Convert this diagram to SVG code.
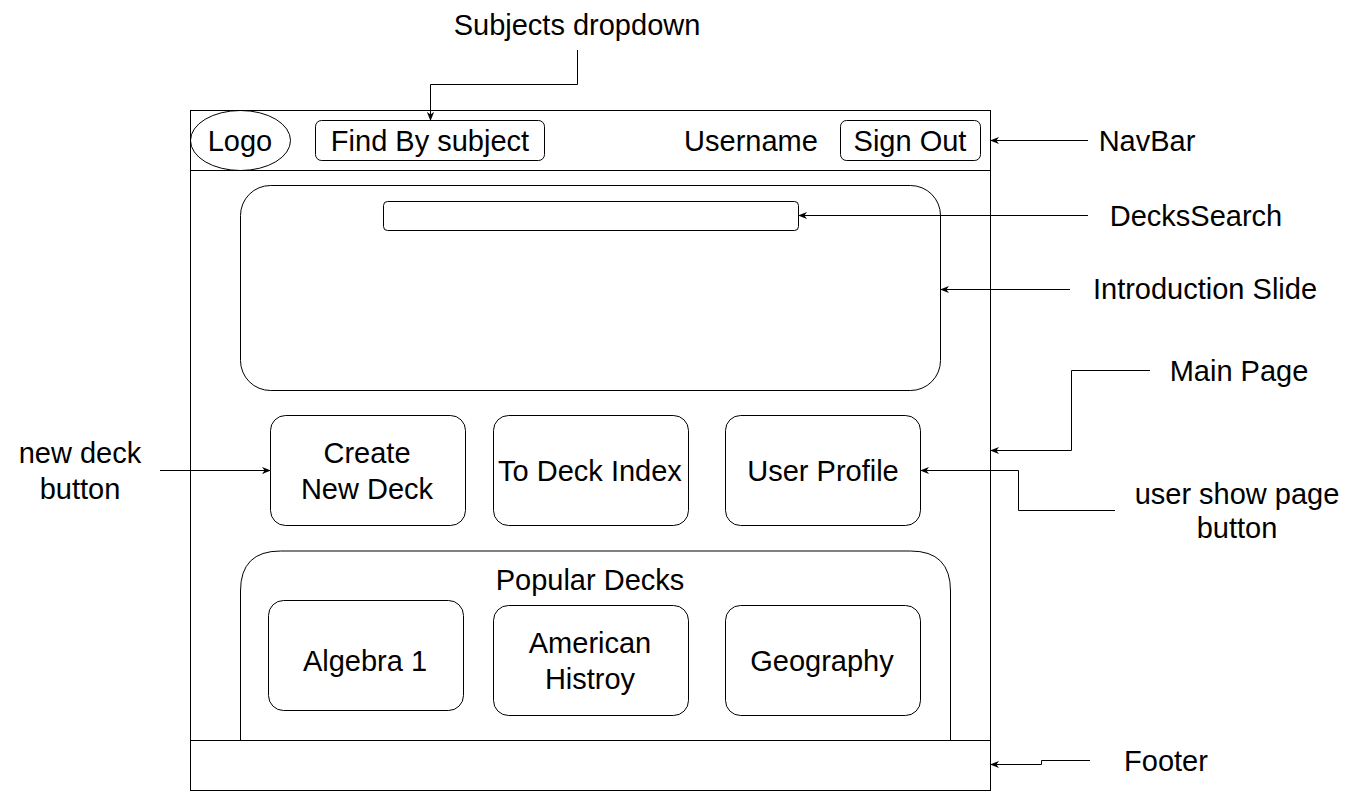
<svg xmlns="http://www.w3.org/2000/svg" width="1361" height="791" viewBox="0 0 1361 791">
<style>
.box{fill:none;stroke:#000;stroke-width:1}
.t{font-family:"Liberation Sans",Arial,Helvetica,sans-serif;font-size:29px;fill:#000;text-anchor:middle;dominant-baseline:central}
.c{fill:none;stroke:#000;stroke-width:1}
</style>
<defs>
<marker id="ah" viewBox="0 0 10 10" refX="9" refY="5" markerWidth="9" markerHeight="9" markerUnits="userSpaceOnUse" orient="auto">
<path d="M0,1 L10,5 L0,9 L3,5 Z" fill="#000"/>
</marker>
</defs>
<rect width="1361" height="791" fill="#fff"/>
<g id="page">
<rect class="box" x="190.5" y="110.5" width="800" height="680"/>
<line class="box" x1="190" y1="170.5" x2="990" y2="170.5"/>
<line class="box" x1="190" y1="740.5" x2="990" y2="740.5"/>
</g>
<g id="logo"><ellipse class="box" cx="240.5" cy="140.5" rx="50" ry="30"/><text class="t" x="240" y="141">Logo</text></g>
<g id="find"><rect class="box" x="315.5" y="120.5" width="229" height="40" rx="6"/><text class="t" x="430" y="141">Find By subject</text></g>
<g id="username"><text class="t" x="751" y="141">Username</text></g>
<g id="signout"><rect class="box" x="840.5" y="120.5" width="140" height="40" rx="6"/><text class="t" x="910" y="141">Sign Out</text></g>
<g id="intro"><rect class="box" x="240.5" y="185.5" width="700" height="205" rx="30"/></g>
<g id="search"><rect class="box" x="383.5" y="201.5" width="415" height="29" rx="4"/></g>
<g id="create"><rect class="box" x="270.5" y="415.5" width="195" height="110" rx="15"/><text class="t" x="367" y="453">Create</text><text class="t" x="367" y="489">New Deck</text></g>
<g id="index"><rect class="box" x="493.5" y="415.5" width="195" height="110" rx="15"/><text class="t" x="590" y="471">To Deck Index</text></g>
<g id="profile"><rect class="box" x="725.5" y="415.5" width="195" height="110" rx="15"/><text class="t" x="823" y="471">User Profile</text></g>
<g id="popular"><path class="box" d="M240.5,740 L240.5,591 Q240.5,551 280.5,551 L910.5,551 Q950.5,551 950.5,591 L950.5,740"/><text class="t" x="590" y="580">Popular Decks</text></g>
<g id="algebra"><rect class="box" x="268.5" y="600.5" width="195" height="110" rx="15"/><text class="t" x="365" y="661">Algebra 1</text></g>
<g id="american"><rect class="box" x="493.5" y="605.5" width="195" height="110" rx="15"/><text class="t" x="590" y="643">American</text><text class="t" x="590" y="679">Histroy</text></g>
<g id="geography"><rect class="box" x="725.5" y="605.5" width="195" height="110" rx="15"/><text class="t" x="822" y="661">Geography</text></g>
<g id="labels">
<text class="t" x="577" y="25">Subjects dropdown</text>
<text class="t" x="1147" y="141">NavBar</text>
<text class="t" x="1196" y="216">DecksSearch</text>
<text class="t" x="1205" y="289">Introduction Slide</text>
<text class="t" x="1239" y="371">Main Page</text>
<text class="t" x="80" y="453">new deck</text>
<text class="t" x="80" y="489">button</text>
<text class="t" x="1237" y="494">user show page</text>
<text class="t" x="1237" y="528">button</text>
<text class="t" x="1166" y="761">Footer</text>
</g>
<g id="connectors">
<path class="c" d="M577.5,50 L577.5,84.5 L430.5,84.5 L430.5,120" marker-end="url(#ah)"/>
<path class="c" d="M1088,140.5 L991,140.5" marker-end="url(#ah)"/>
<path class="c" d="M1088,215.5 L799,215.5" marker-end="url(#ah)"/>
<path class="c" d="M1070,289.5 L941,289.5" marker-end="url(#ah)"/>
<path class="c" d="M1150,370.5 L1071.5,370.5 L1071.5,450.5 L991,450.5" marker-end="url(#ah)"/>
<path class="c" d="M160,470.5 L270,470.5" marker-end="url(#ah)"/>
<path class="c" d="M1115,510.5 L1018.5,510.5 L1018.5,470.5 L921,470.5" marker-end="url(#ah)"/>
<path class="c" d="M1090,760.5 L1041.5,760.5 L1041.5,764.5 L991,764.5" marker-end="url(#ah)"/>
</g>
</svg>
